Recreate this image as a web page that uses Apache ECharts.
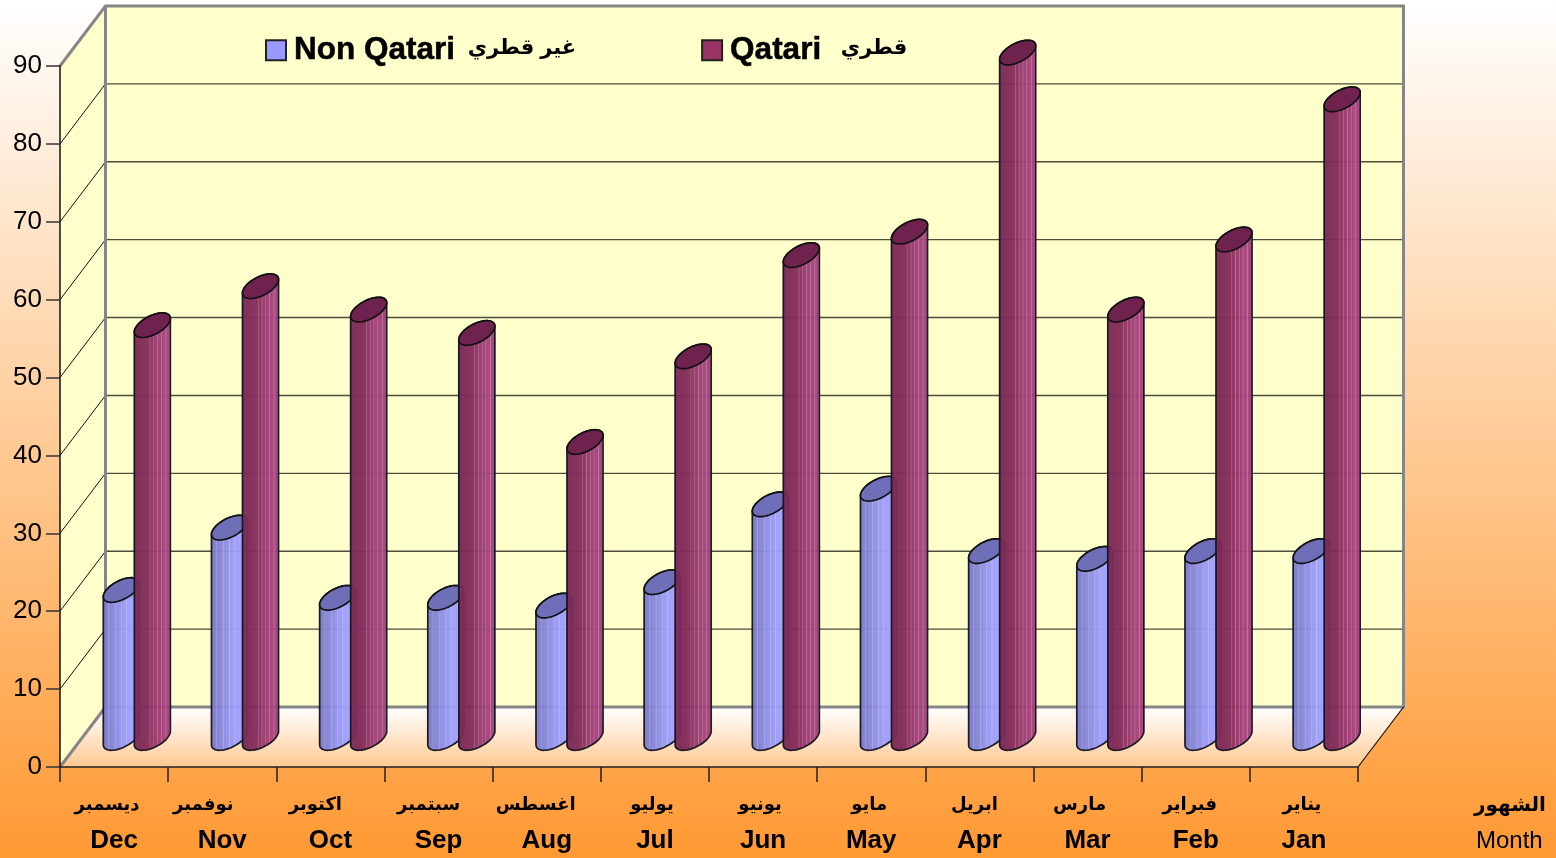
<!DOCTYPE html>
<html><head><meta charset="utf-8">
<style>html,body{margin:0;padding:0;background:#fff}#c{width:1556px;height:858px}</style>
<script src="https://cdn.jsdelivr.net/npm/echarts@6/dist/echarts.min.js"></script>
</head><body><div id="c"></div>
<script>
const monthsEn = ['Dec','Nov','Oct','Sep','Aug','Jul','Jun','May','Apr','Mar','Feb','Jan'];
const monthsAr = ['ديسمبر','نوفمبر','اكتوبر','سبتمبر','اغسطس','يوليو','يونيو','مايو','ابريل','مارس','فبراير','يناير'];
const nonQatari = [19,27,18,18,17,20,30,32,24,23,24,24];
const qatari = [53,58,55,52,38,49,62,65,88,55,64,82];
const yTicks = [0,10,20,30,40,50,60,70,80,90];
const nonQatariName = 'Non Qatari|غير قطري';
const qatariName = 'Qatari |قطري';
const arNudge = [14,38,30,20,22,6,6,4,10,16,12,4];

const SANS = '"Liberation Sans","DejaVu Sans",Arial,sans-serif';
const DX = 45.5, DY = 60, BAR_DY = 29, RX = 15, EX = 10, EY = 12.3, GAP = 15.5;
const chart = echarts.init(document.getElementById('c'));

function ellipse(cx, cy, from, to, n) {
  const pts = [];
  for (let i = 0; i <= n; i++) {
    const t = from + (to - from) * i / n;
    pts.push([cx + RX * Math.cos(t) + EX * Math.sin(t), cy - EY * Math.sin(t)]);
  }
  return pts;
}
const t0 = Math.atan2(EX, RX);

function stripes(base) {
  return new echarts.graphic.LinearGradient(0, 0, 1, 0, base.map(s => ({offset: s[0], color: s[1]})));
}
const blueStops = [[0,'#7a7ac6'],[.14,'#8080cf'],[.16,'#9a9ae6'],[.18,'#8282d2'],[.32,'#8a8adc'],[.34,'#a4a4ee'],[.36,'#8e8ee2'],[.48,'#9393ea'],[.5,'#aeaef6'],[.52,'#9797f2'],[.62,'#9c9cf8'],[.64,'#b4b4ff'],[.66,'#9e9efc'],[.8,'#a0a0ff'],[.82,'#b2b2ff'],[.84,'#a0a0ff'],[1,'#9898f4']];
const maroonStops = [[0,'#782856'],[.3,'#822b59'],[.42,'#882e5e'],[.44,'#a65c86'],[.46,'#8c3060'],[.52,'#923468'],[.54,'#b26690'],[.56,'#97376b'],[.62,'#9b3a70'],[.64,'#b86c98'],[.66,'#9e3c73'],[.72,'#a23f77'],[.74,'#bb6e9c'],[.76,'#a3407a'],[.84,'#a8447e'],[.86,'#c074a2'],[.88,'#a5437b'],[.94,'#a0407a'],[.96,'#b86c98'],[1,'#9a3c72']];

function cylinderSeries(name, values, offset, stops, topColor, legendColor, z) {
  return {
    name, type: 'custom', coordinateSystem: 'cartesian2d', z, clip: false, silent: true,
    itemStyle: {color: legendColor, borderColor: '#222', borderWidth: 1.5},
    data: values.map((v, i) => [i, v]),
    encode: {x: 0, y: 1},
    renderItem(params, api) {
      const top = api.coord([api.value(0), api.value(1)]);
      const bot = api.coord([api.value(0), 0]);
      const cx = top[0] + DX / 2 + offset, ty = top[1] - BAR_DY, by = bot[1] - BAR_DY;
      const body = ellipse(cx, by, t0 + Math.PI, t0 + 2 * Math.PI, 30)
        .concat(ellipse(cx, ty, t0, t0 + Math.PI, 30));
      const cap = ellipse(cx, ty, 0, 2 * Math.PI, 60);
      return {type: 'group', silent: true, children: [
        {type: 'polygon', shape: {points: body}, style: {fill: stripes(stops), stroke: '#14141f', lineWidth: 1.7, opacity: .96}},
        {type: 'polygon', shape: {points: cap}, style: {fill: topColor, stroke: '#111', lineWidth: 1.7}}
      ]};
    }
  };
}

const wallSeries = {
  type: 'custom', name: 'walls', coordinateSystem: 'cartesian2d', z: 1, clip: false, silent: true,
  data: [[0, 0]],
  renderItem(params, api) {
    const o = api.coord([0, 0]), tp = api.coord([0, 90]);
    const band = api.size([1, 0])[0];
    const x0 = o[0] - band / 2, x1 = x0 + band * monthsEn.length, y0 = o[1], y1 = tp[1];
    const ch = [];
    ch.push({type: 'polygon', shape: {points: [[x0, y0], [x0 + DX, y0 - DY], [x0 + DX, y1 - DY], [x0, y1]]}, style: {fill: '#ffffcc'}});
    ch.push({type: 'polygon', shape: {points: [[x0 + DX, y0 - DY], [x1 + DX, y0 - DY], [x1 + DX, y1 - DY], [x0 + DX, y1 - DY]]}, style: {fill: '#ffffcc'}});
    ch.push({type: 'polygon', shape: {points: [[x0, y0], [x0 + DX, y0 - DY], [x1 + DX, y0 - DY], [x1, y0]]},
      style: {fill: new echarts.graphic.LinearGradient(0, 0, 0, 1, [{offset: 0, color: 'rgba(255,255,255,1)'}, {offset: 1, color: 'rgba(255,255,255,.4)'}])}});
    yTicks.slice(1, -1).forEach(v => {
      const y = api.coord([0, v])[1];
      ch.push({type: 'line', shape: {x1: x0, y1: y, x2: x0 + DX, y2: y - DY}, style: {stroke: '#111', lineWidth: 1}});
      ch.push({type: 'line', shape: {x1: x0 + DX, y1: y - DY, x2: x1 + DX, y2: y - DY}, style: {stroke: '#4d4d3c', lineWidth: 1.4}});
    });
    const grey = {fill: 'none', stroke: '#868686', lineWidth: 3};
    ch.push({type: 'polyline', shape: {points: [[x0, y1], [x0 + DX, y1 - DY], [x1 + DX, y1 - DY], [x1 + DX, y0 - DY], [x0 + DX, y0 - DY], [x0 + DX, y1 - DY]]}, style: grey});
    ch.push({type: 'line', shape: {x1: x0, y1: y0, x2: x0 + DX, y2: y0 - DY}, style: grey});
    ch.push({type: 'line', shape: {x1: x1, y1: y0, x2: x1 + DX, y2: y0 - DY}, style: {stroke: '#111', lineWidth: 1.2}});
    return {type: 'group', silent: true, children: ch};
  }
};

const rich = {en: {fontFamily: SANS, fontSize: 26, fontWeight: 'bold', color: '#000', lineHeight: 36}};
monthsAr.forEach((m, i) => {
  rich['ar' + i] = {fontFamily: SANS, fontSize: 18, fontWeight: 'bold', color: '#000', lineHeight: 35, padding: [0, arNudge[i], 0, 0]};
});

const legendEn = {fontFamily: SANS, fontSize: 31.5, fontWeight: 'bold', color: '#000', textBorderColor: '#000', textBorderWidth: .5};

chart.setOption({
  animation: false,
  backgroundColor: new echarts.graphic.LinearGradient(0, 0, 0, 1, [{offset: 0, color: '#ffffff'}, {offset: 1, color: '#ff9933'}]),
  grid: {left: 60, top: 66, width: 1298, height: 701, containLabel: false},
  legend: {
    left: 260, top: 29, itemWidth: 20, itemHeight: 20, itemGap: 125, icon: 'rect',
    data: [nonQatariName, qatariName], selectedMode: false,
    formatter: n => { const p = n.split('|'); return '{' + (n === qatariName ? 'en2' : 'en1') + '|' + p[0] + ' }{ar|' + p[1] + '}'; },
    textStyle: {rich: {
      en1: Object.assign({padding: [0, 4, 0, 3]}, legendEn),
      en2: Object.assign({padding: [0, 2, 0, 3]}, legendEn),
      ar: {fontFamily: SANS, fontSize: 21, fontWeight: 'bold', color: '#000', padding: [0, 0, 4, 0]}
    }}
  },
  xAxis: {
    type: 'category', data: monthsEn, z: 5,
    axisLine: {show: true, lineStyle: {color: '#222', width: 1.5}},
    axisTick: {show: true, length: 15, inside: false, lineStyle: {color: '#222', width: 1.5}},
    axisLabel: {
      margin: 21, interval: 0, rich,
      formatter: (v, i) => '{ar' + i + '|' + monthsAr[i] + '}\n{en|' + v + '}'
    }
  },
  yAxis: {
    type: 'value', min: 0, max: 90, interval: 10, z: 5,
    axisLine: {show: true, lineStyle: {color: '#111', width: 1.5}},
    axisTick: {show: true, length: 14, inside: false, lineStyle: {color: '#333', width: 1.5}},
    axisLabel: {margin: 18, fontFamily: SANS, fontSize: 26, color: '#000'},
    splitLine: {show: false}
  },
  series: [
    wallSeries,
    cylinderSeries(nonQatariName, nonQatari, -GAP, blueStops, '#6e6eb9', '#9999ff', 2),
    cylinderSeries(qatariName, qatari, GAP, maroonStops, '#70224f', '#993366', 3)
  ],
  graphic: [
    {type: 'text', left: 1474, top: 795, style: {text: 'الشهور', font: 'bold 20px ' + SANS, fill: '#000'}},
    {type: 'text', left: 1476, top: 829, style: {text: 'Month', font: '24px ' + SANS, fill: '#000'}}
  ]
});
</script></body></html>
